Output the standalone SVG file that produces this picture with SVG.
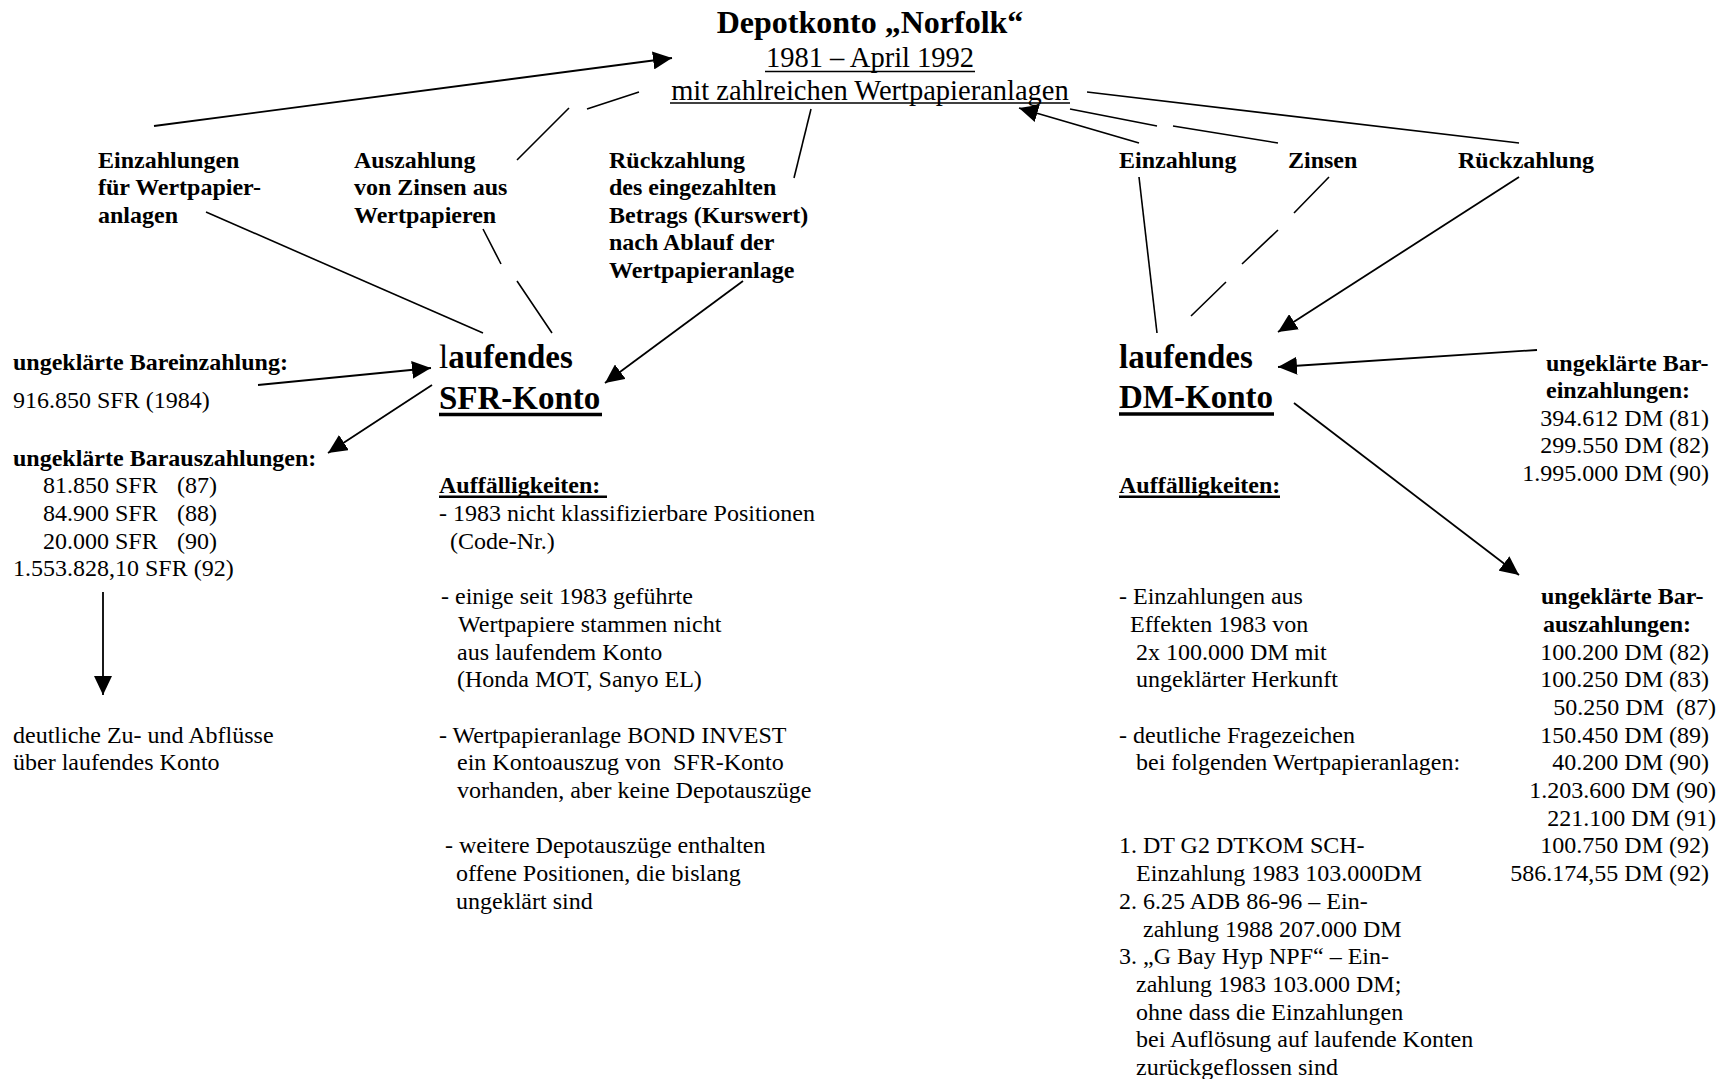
<svg xmlns="http://www.w3.org/2000/svg" width="1726" height="1079" viewBox="0 0 1726 1079">
<style>
text { font-family: "Liberation Serif", "Times New Roman", serif; fill: #000; }
.b { font-weight: bold; font-size: 24px; }
.r { font-size: 24px; }
.big { font-weight: bold; font-size: 33px; }
.ln { stroke: #000; stroke-width: 1.6; fill: none; }
.ar { stroke: #000; stroke-width: 1.8; fill: none; marker-end: url(#ah); }
.ul { stroke: #000; fill: none; }
</style>
<defs>
<marker id="ah" markerUnits="userSpaceOnUse" markerWidth="19" markerHeight="18" viewBox="0 0 19 18" refX="19" refY="9" orient="auto">
<path d="M0,0 L19,9 L0,18 z" fill="#000"/>
</marker>
</defs>
<rect width="1726" height="1079" fill="#fff"/>

<g id="title">
<text x="870" y="33" text-anchor="middle" font-weight="bold" font-size="32">Depotkonto „Norfolk“</text>
<text x="870" y="67" text-anchor="middle" font-size="28.5">1981 – April 1992</text>
<line class="ul" x1="765" y1="71.5" x2="975" y2="71.5" stroke-width="1.6"/>
<text x="870" y="99.5" text-anchor="middle" font-size="28.5">mit zahlreichen Wertpapieranlagen</text>
<line class="ul" x1="670" y1="103" x2="1070" y2="103" stroke-width="1.6"/>
</g>

<g id="label-einzahlungen">
<text class="b" x="98" y="167.5">Einzahlungen</text>
<text class="b" x="98" y="195">für Wertpapier-</text>
<text class="b" x="98" y="222.5">anlagen</text>
</g>

<g id="label-auszahlung">
<text class="b" x="354" y="167.5">Auszahlung</text>
<text class="b" x="354" y="195">von Zinsen aus</text>
<text class="b" x="354" y="222.5">Wertpapieren</text>
</g>

<g id="label-rueckzahlung-sfr">
<text class="b" x="609" y="167.5">Rückzahlung</text>
<text class="b" x="609" y="195">des eingezahlten</text>
<text class="b" x="609" y="222.5">Betrags (Kurswert)</text>
<text class="b" x="609" y="250">nach Ablauf der</text>
<text class="b" x="609" y="277.5">Wertpapieranlage</text>
</g>

<g id="label-einzahlung-dm">
<text class="b" x="1119" y="167.5">Einzahlung</text>
</g>
<g id="label-zinsen-dm">
<text class="b" x="1288" y="167.5">Zinsen</text>
</g>
<g id="label-rueckzahlung-dm">
<text class="b" x="1458" y="167.5">Rückzahlung</text>
</g>

<g id="sfr-konto">
<text class="big" x="439" y="368"><tspan font-weight="normal">l</tspan>aufendes</text>
<text class="big" x="439" y="409">SFR-Konto</text>
<line class="ul" x1="439" y1="414.5" x2="602" y2="414.5" stroke-width="3.5"/>
</g>

<g id="dm-konto">
<text class="big" x="1119" y="368">laufendes</text>
<text class="big" x="1119" y="408">DM-Konto</text>
<line class="ul" x1="1119" y1="414" x2="1274" y2="414" stroke-width="3.5"/>
</g>

<g id="sfr-bareinzahlung">
<text class="b" x="13" y="370">ungeklärte Bareinzahlung:</text>
<text class="r" x="13" y="408">916.850 SFR (1984)</text>
</g>

<g id="sfr-barauszahlungen">
<text class="b" x="13" y="465.6">ungeklärte Barauszahlungen:</text>
<text class="r" y="493.3"><tspan x="43">81.850 SFR</tspan><tspan x="177">(87)</tspan></text>
<text class="r" y="521"><tspan x="43">84.900 SFR</tspan><tspan x="177">(88)</tspan></text>
<text class="r" y="548.7"><tspan x="43">20.000 SFR</tspan><tspan x="177">(90)</tspan></text>
<text class="r" x="13" y="576.4">1.553.828,10 SFR (92)</text>
</g>

<g id="sfr-zuabfluesse">
<text class="r" x="13" y="742.6">deutliche Zu- und Abflüsse</text>
<text class="r" x="13" y="770.3">über laufendes Konto</text>
</g>

<g id="sfr-auffaelligkeiten">
<text class="b" x="439" y="493.3">Auffälligkeiten:</text>
<line class="ul" x1="439" y1="496.8" x2="607" y2="496.8" stroke-width="2.5"/>
<text class="r" x="439" y="521">- 1983 nicht klassifizierbare Positionen</text>
<text class="r" x="450" y="548.7">(Code-Nr.)</text>
<text class="r" x="441" y="604.1">- einige seit 1983 geführte</text>
<text class="r" x="458" y="631.8">Wertpapiere stammen nicht</text>
<text class="r" x="457" y="659.5">aus laufendem Konto</text>
<text class="r" x="457" y="687.2">(Honda MOT, Sanyo EL)</text>
<text class="r" x="439" y="742.6">- Wertpapieranlage BOND INVEST</text>
<text class="r" x="457" y="770.3" xml:space="preserve">ein Kontoauszug von  SFR-Konto</text>
<text class="r" x="457" y="798">vorhanden, aber keine Depotauszüge</text>
<text class="r" x="445" y="853.4">- weitere Depotauszüge enthalten</text>
<text class="r" x="456" y="881.1">offene Positionen, die bislang</text>
<text class="r" x="456" y="908.8">ungeklärt sind</text>
</g>

<g id="dm-auffaelligkeiten">
<text class="b" x="1119" y="493.3">Auffälligkeiten:</text>
<line class="ul" x1="1119" y1="496.8" x2="1280" y2="496.8" stroke-width="2.5"/>
<text class="r" x="1119" y="604.1">- Einzahlungen aus</text>
<text class="r" x="1130" y="631.8">Effekten 1983 von</text>
<text class="r" x="1136" y="659.5">2x 100.000 DM mit</text>
<text class="r" x="1136" y="687.2">ungeklärter Herkunft</text>
<text class="r" x="1119" y="742.6">- deutliche Fragezeichen</text>
<text class="r" x="1136" y="770.3">bei folgenden Wertpapieranlagen:</text>
<text class="r" x="1119" y="853.4">1. DT G2 DTKOM SCH-</text>
<text class="r" x="1136" y="881.1">Einzahlung 1983 103.000DM</text>
<text class="r" x="1119" y="908.8">2. 6.25 ADB 86-96 – Ein-</text>
<text class="r" x="1143" y="936.5">zahlung 1988 207.000 DM</text>
<text class="r" x="1119" y="964.2">3. „G Bay Hyp NPF“ – Ein-</text>
<text class="r" x="1136" y="991.9">zahlung 1983 103.000 DM;</text>
<text class="r" x="1136" y="1019.6">ohne dass die Einzahlungen</text>
<text class="r" x="1136" y="1047.3">bei Auflösung auf laufende Konten</text>
<text class="r" x="1136" y="1075">zurückgeflossen sind</text>
</g>

<g id="dm-bareinzahlungen">
<text class="b" x="1546" y="370.5">ungeklärte Bar-</text>
<text class="b" x="1546" y="398">einzahlungen:</text>
<text class="r" x="1709" y="425.5" text-anchor="end">394.612 DM (81)</text>
<text class="r" x="1709" y="453" text-anchor="end">299.550 DM (82)</text>
<text class="r" x="1709" y="480.5" text-anchor="end">1.995.000 DM (90)</text>
</g>

<g id="dm-barauszahlungen">
<text class="b" x="1541" y="604.1">ungeklärte Bar-</text>
<text class="b" x="1543" y="631.8">auszahlungen:</text>
<text class="r" x="1709" y="659.5" text-anchor="end">100.200 DM (82)</text>
<text class="r" x="1709" y="687.2" text-anchor="end">100.250 DM (83)</text>
<text class="r" x="1716" y="714.9" text-anchor="end" xml:space="preserve">50.250 DM  (87)</text>
<text class="r" x="1709" y="742.6" text-anchor="end">150.450 DM (89)</text>
<text class="r" x="1709" y="770.3" text-anchor="end">40.200 DM (90)</text>
<text class="r" x="1716" y="798" text-anchor="end">1.203.600 DM (90)</text>
<text class="r" x="1716" y="825.7" text-anchor="end">221.100 DM (91)</text>
<text class="r" x="1709" y="853.4" text-anchor="end">100.750 DM (92)</text>
<text class="r" x="1709" y="881.1" text-anchor="end">586.174,55 DM (92)</text>
</g>

<g id="connectors">
<path class="ar" d="M154,126 L672,58"/>
<path class="ln" d="M517,160 L569,108 M587,109 L639,92"/>
<path class="ln" d="M794,178 L811,109"/>
<path class="ln" d="M206,212 L483,333"/>
<path class="ln" d="M483,229 L501,264 M517,281 L552,333"/>
<path class="ar" d="M743,281 L605,383"/>
<path class="ar" d="M258,385 L431,368"/>
<path class="ar" d="M432,385 L328,453"/>
<path class="ar" d="M103,592 L103,695"/>
<path class="ln" d="M1519,143 L1087,92"/>
<path class="ln" d="M1278,143 L1173,126 M1157,126 L1070,109"/>
<path class="ar" d="M1139,143 L1019,108"/>
<path class="ln" d="M1139,177 L1157,333"/>
<path class="ln" d="M1329,177 L1294,213 M1278,230 L1242,264 M1226,282 L1191,316"/>
<path class="ar" d="M1519,177 L1278,332"/>
<path class="ar" d="M1537,350 L1278,367"/>
<path class="ar" d="M1294,403 L1519,575"/>
</g>
</svg>
